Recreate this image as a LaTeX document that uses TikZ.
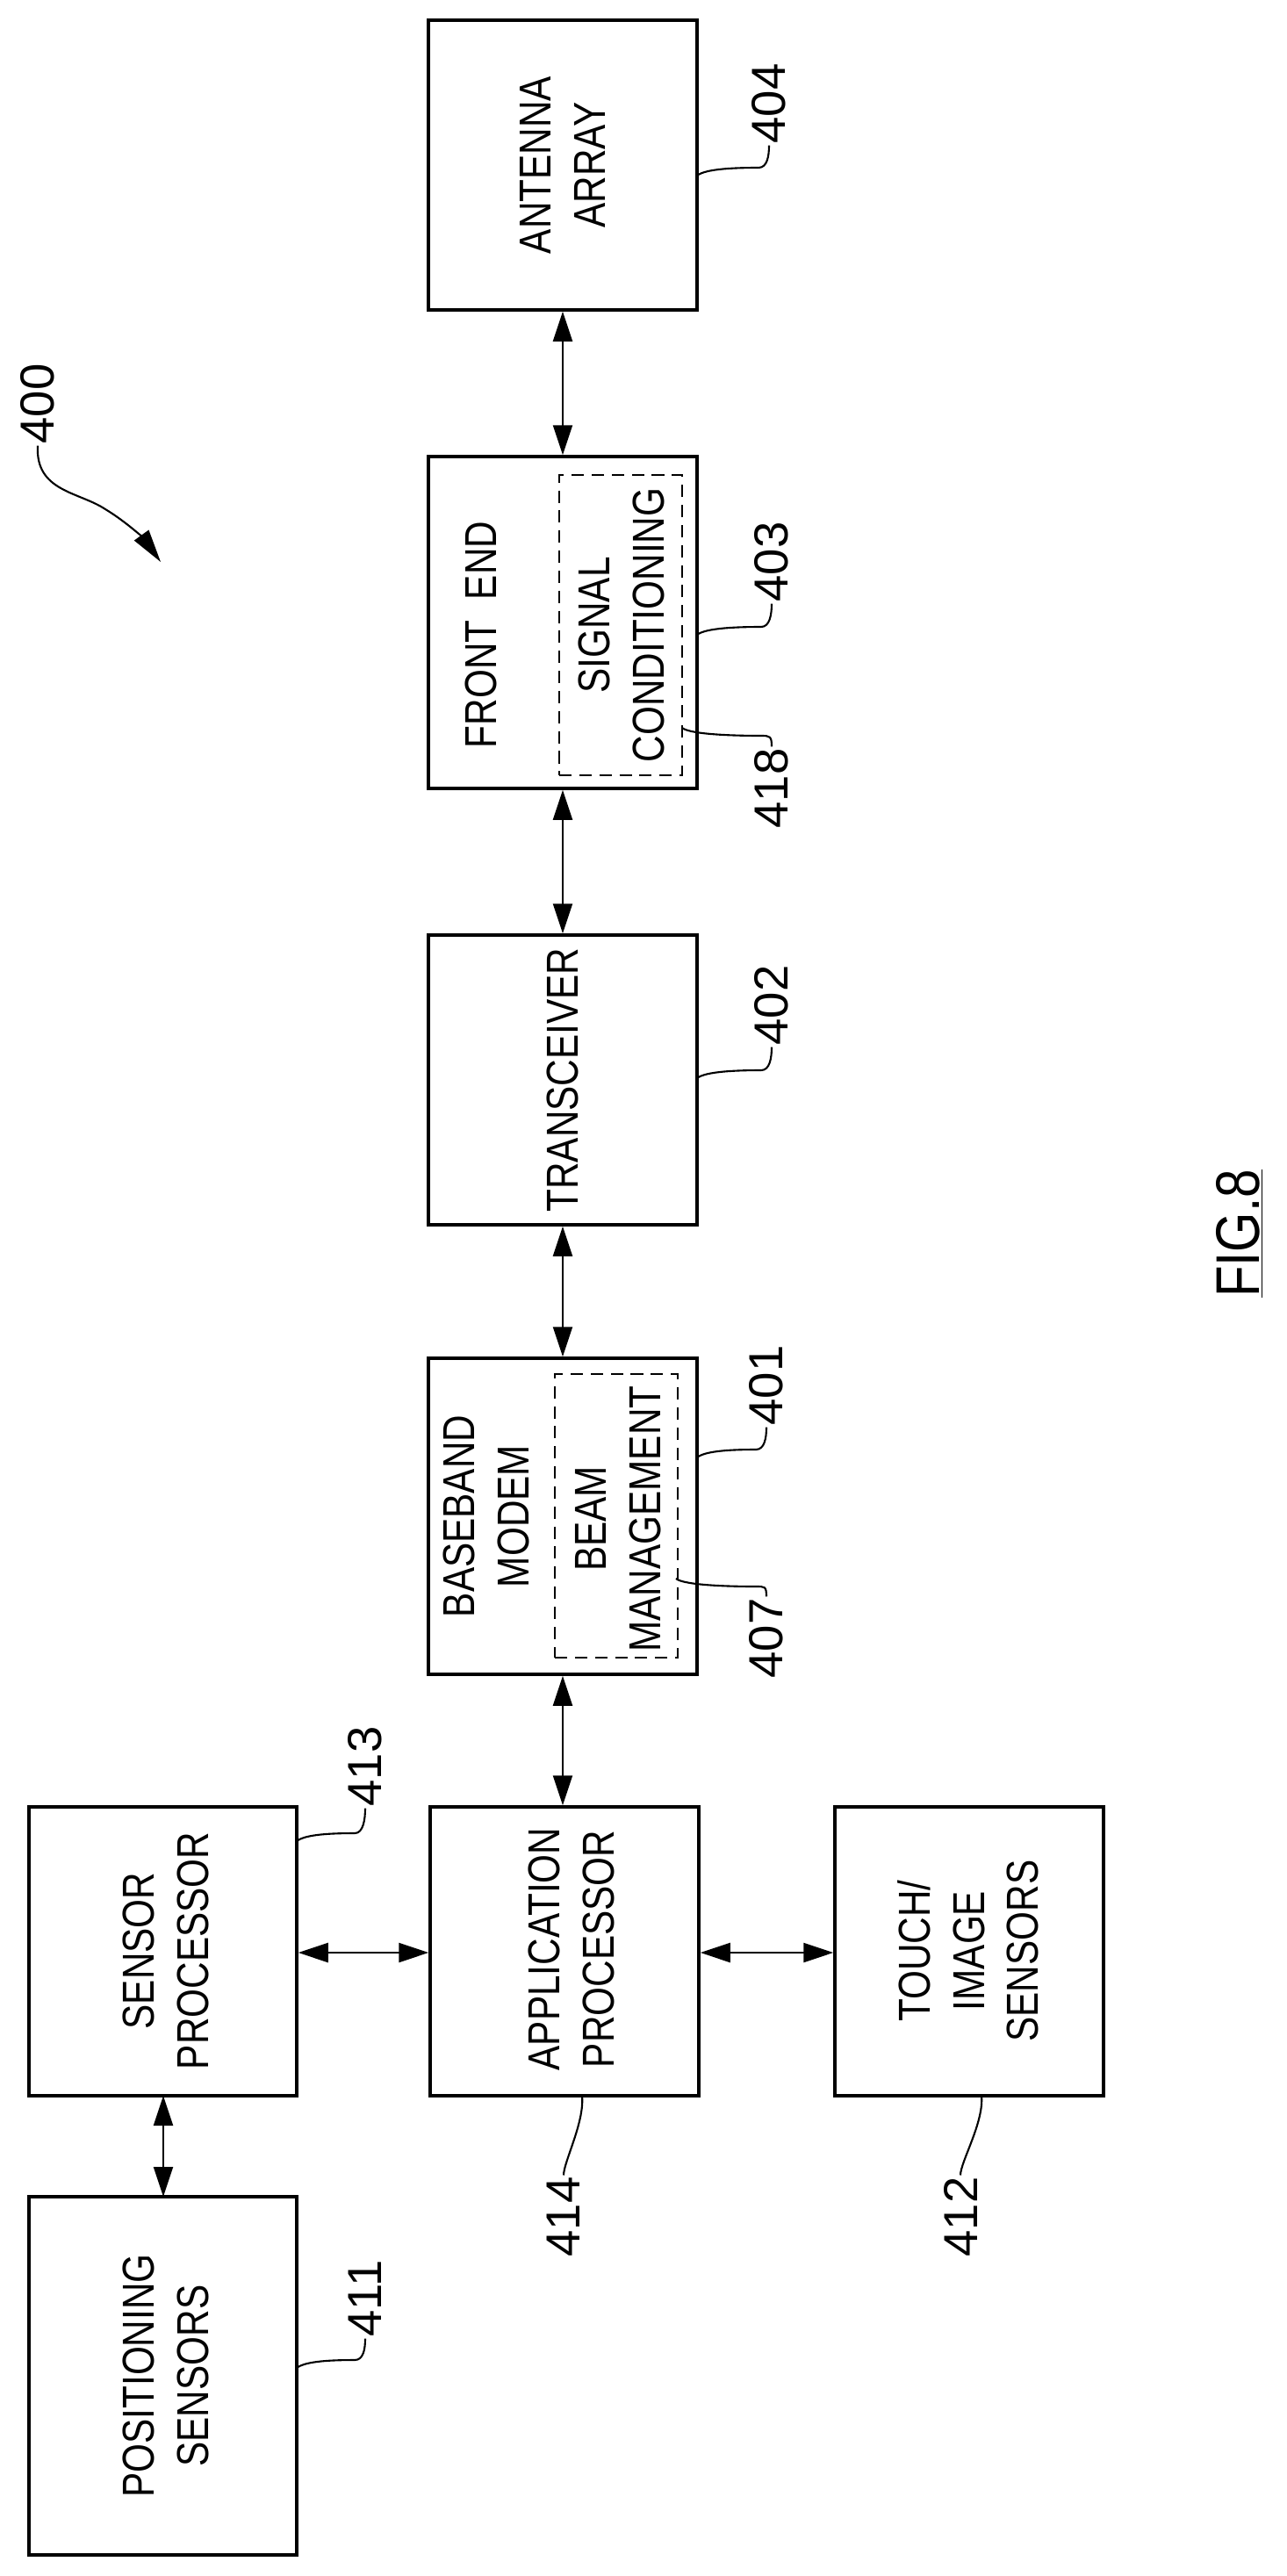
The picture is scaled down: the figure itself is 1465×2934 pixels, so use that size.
\documentclass[tikz,border=0pt]{standalone}
\usepackage{fontspec}
\setmainfont{Liberation Sans}[FakeStretch=0.83]
\newfontfamily\labfont{Liberation Sans}
\usetikzlibrary{arrows.meta,calc}
\begin{document}
\begin{tikzpicture}[x=0.02cm,y=-0.02cm,
  box/.style={draw,line width=2pt,inner sep=0pt},
  dbox/.style={draw,line width=1.3pt,dash pattern=on 8pt off 5pt,inner sep=0pt},
  txt/.style={rotate=90,font=\fontsize{29}{35}\selectfont,align=center,inner sep=0pt},
  lab/.style={rotate=90,font=\labfont\fontsize{31}{35}\selectfont,inner sep=1pt},
  conn/.style={line width=1.3pt,{Triangle[length=0.68cm,width=0.44cm]}-{Triangle[length=0.68cm,width=0.44cm]}},
  leader/.style={line width=1.2pt}]
\useasboundingbox (0,0) rectangle (1465,2934);
\newcommand\upleader[2]{\draw[leader] (#1) .. controls +(10,-8) and +(-25,0) .. ($(#1 -| #2)+(-12,-9)$) .. controls +(10,0) and +(0,12) .. (#2);}
\newcommand\dnleader[2]{\draw[leader] (#1) .. controls +(10,8) and +(-25,0) .. ($(#1 -| #2)+(-12,9)$) .. controls +(10,0) and +(0,-12) .. (#2);}
% boxes
\node[box,minimum width=306*0.02cm,minimum height=330*0.02cm] (ant) at (641,188) {};
\node[box,minimum width=306*0.02cm,minimum height=378*0.02cm] (fe) at (641,709) {};
\node[dbox,minimum width=140*0.02cm,minimum height=342*0.02cm] (sc) at (707,712) {};
\node[box,minimum width=306*0.02cm,minimum height=330*0.02cm] (tr) at (641,1230) {};
\node[box,minimum width=306*0.02cm,minimum height=360*0.02cm] (bb) at (641,1727) {};
\node[dbox,minimum width=140*0.02cm,minimum height=323*0.02cm] (bm) at (702,1726.5) {};
\node[box,minimum width=306*0.02cm,minimum height=329*0.02cm] (ap) at (643,2222.5) {};
\node[box,minimum width=305*0.02cm,minimum height=329*0.02cm] (sp) at (185.5,2222.5) {};
\node[box,minimum width=306*0.02cm,minimum height=329*0.02cm] (ts) at (1104,2222.5) {};
\node[box,minimum width=305*0.02cm,minimum height=408*0.02cm] (ps) at (185.5,2706) {};
% texts
\node[txt] (t1) at (641,188) {ANTENNA\\ARRAY};
\node[txt] (t2) at (548,723) {FRONT\ \ END};
\node[txt] (t3) at (708,712) {SIGNAL\\CONDITIONING};
\node[txt] (t4) at (641,1230) {TRANSCEIVER};
\node[txt] (t5) at (554,1727) {BASEBAND\\MODEM};
\node[txt] (t6) at (704,1730) {BEAM\\MANAGEMENT};
\node[txt] (t7) at (651,2220) {APPLICATION\\PROCESSOR};
\node[txt] (t8) at (189,2222) {SENSOR\\PROCESSOR};
\node[txt] (t9) at (1103,2222) {TOUCH/\\IMAGE\\SENSORS};
\node[txt] (t10) at (189,2706) {POSITIONING\\SENSORS};
\node[rotate=90,font=\fontsize{40}{44}\selectfont,inner sep=0pt] (fig) at (1412,1405) {\underline{FIG.8}};
% connectors
\draw[conn] (ant.south) -- (fe.north);
\draw[conn] (fe.south) -- (tr.north);
\draw[conn] (tr.south) -- (bb.north);
\draw[conn] (bb.south) -- (bb.south |- ap.north);
\draw[conn] (sp.east |- 0,2224) -- (ap.west |- 0,2224);
\draw[conn] (ap.east |- 0,2224) -- (ts.west |- 0,2224);
\draw[conn] (186,2387) -- (186,2502);
% labels
\node[lab] (l404) at (876,118) {404};
\node[lab] (l403) at (879,640) {403};
\node[lab] (l418) at (879,898) {418};
\node[lab] (l402) at (879,1145) {402};
\node[lab] (l401) at (873,1578) {401};
\node[lab] (l407) at (873,1866) {407};
\node[lab] (l413) at (416,2012) {413};
\node[lab] (l411) at (416,2618) {411};
\node[lab] (l414) at (642,2525) {414};
\node[lab] (l412) at (1094,2525) {412};
\node[lab] (l400) at (43,460) {400};
\coordinate (c404) at (794,200);
\coordinate (c403) at (794,723);
\coordinate (c418) at (777,829);
\coordinate (c402) at (794,1228);
\coordinate (c401) at (794,1660);
\coordinate (c407) at (770,1798);
\coordinate (c413) at (338,2097);
\coordinate (c411) at (338,2697);
\coordinate (c414) at (663,2387);
\coordinate (c412) at (1118,2387);
\upleader{c404}{l404.west}
\upleader{c403}{l403.west}
\dnleader{c418}{l418.east}
\upleader{c402}{l402.west}
\upleader{c401}{l401.west}
\dnleader{c407}{l407.east}
\upleader{c413}{l413.west}
\upleader{c411}{l411.west}
\draw[leader] (c414) .. controls +(3,30) and +(0,-15) .. (l414.east);
\draw[leader] (c412) .. controls +(3,30) and +(0,-15) .. (l412.east);
\draw[leader,-{Triangle[length=0.75cm,width=0.4cm]}] (l400.west) .. controls (40,560) and (90,560) .. (120,580) .. controls (145,595) and (165,615) .. (183,640);
\end{tikzpicture}
\end{document}
